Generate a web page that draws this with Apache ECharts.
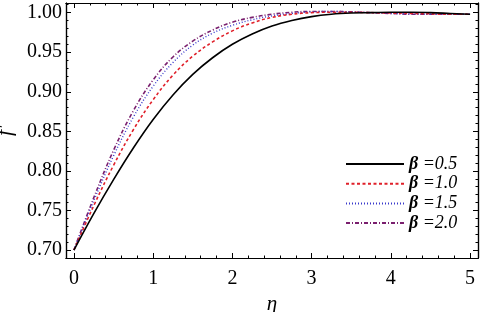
<!DOCTYPE html>
<html><head><meta charset="utf-8">
<script src="https://cdn.jsdelivr.net/npm/echarts@6/dist/echarts.min.js"></script>
<style>html,body{margin:0;padding:0;background:#fff}#c{width:480px;height:312px}</style>
</head><body><div id="c"></div>
<script>
const eta = [0,0.25,0.5,0.75,1.0,1.25,1.5,1.75,2.0,2.25,2.5,2.75,3.0,3.25,3.5,3.75,4.0,4.25,4.5,4.75,5.0];
const beta05 = [0.700,0.746,0.789,0.829,0.865,0.896,0.922,0.943,0.960,0.973,0.983,0.990,0.995,0.998,0.9995,1.000,1.0005,1.0005,1.000,0.999,0.998];
const beta10 = [0.700,0.756,0.807,0.852,0.890,0.921,0.945,0.963,0.977,0.987,0.994,0.998,1.000,1.0005,1.0005,1.000,0.9995,0.999,0.9985,0.998,0.998];
const beta15 = [0.700,0.762,0.819,0.868,0.907,0.937,0.959,0.974,0.984,0.991,0.996,0.999,1.001,1.0015,1.001,1.000,0.999,0.9985,0.998,0.998,0.998];
const beta20 = [0.700,0.766,0.826,0.876,0.915,0.944,0.964,0.978,0.988,0.994,0.998,1.0005,1.0015,1.0015,1.001,1.000,0.999,0.998,0.998,0.998,0.998];
const seriesNames = ['β =0.5','β =1.0','β =1.5','β =2.0'];
const xMajor = [0,1,2,3,4,5];
const xMinor = [0.2,0.4,0.6,0.8,1.2,1.4,1.6,1.8,2.2,2.4,2.6,2.8,3.2,3.4,3.6,3.8,4.2,4.4,4.6,4.8];
const yMajor = [0.70,0.75,0.80,0.85,0.90,0.95,1.00];
const yMinor = [0.71,0.72,0.73,0.74,0.76,0.77,0.78,0.79,0.81,0.82,0.83,0.84,0.86,0.87,0.88,0.89,0.91,0.92,0.93,0.94,0.96,0.97,0.98,0.99,1.01];

const FONT = '"Liberation Serif", "DejaVu Serif", serif';
const XMIN = -0.1, XMAX = 5.1, YMIN = 0.6899, YMAX = 1.0122;
const lineC = {color:'#000', width:1.2};

function axis(kind, pos, vals, len, labels, extra) {
  const a = {
    type:'value', position:pos,
    min: kind==='x'?XMIN:YMIN, max: kind==='x'?XMAX:YMAX,
    axisLine:{show:true, onZero:false, lineStyle:lineC},
    axisTick:{show:true, inside:true, length:len, customValues:vals, lineStyle:{color:'#000', width:1}},
    axisLabel:{show:false},
    splitLine:{show:false}
  };
  if (labels) {
    a.axisLabel = {show:true, customValues:vals, color:'#000', fontFamily:FONT, fontSize:20,
      margin: kind==='x'?11:4,
      formatter: kind==='x' ? (v)=>String(Math.round(v)) : (v)=>v.toFixed(2)};
  }
  return Object.assign(a, extra||{});
}

const data = (arr)=>eta.map((e,i)=>[e,arr[i]]);
const styles = [
  {color:'#000000', type:'solid', width:1.6},
  {color:'#e0202a', type:[3,2.5], width:1.6},
  {color:'#3a3acc', type:[1,2], width:1.4},
  {color:'#7a1f6e', type:[4,2,1,2], width:1.6}
];
const vals = [beta05,beta10,beta15,beta20];

const chart = echarts.init(document.getElementById('c'), null, {renderer:'canvas'});
chart.setOption({
  animation:false,
  backgroundColor:'#fff',
  grid:{left:66, right:2, top:3, bottom:54, containLabel:false, outerBoundsMode:'none'},
  xAxis:[
    axis('x','bottom',xMajor,5,true,{name:'η', nameLocation:'middle', nameGap:36,
      nameTextStyle:{fontFamily:FONT, fontStyle:'italic', fontSize:21, color:'#000'}}),
    axis('x','bottom',xMinor,2.5,false),
    axis('x','top',xMajor,5,false),
    axis('x','top',xMinor,2.5,false)
  ],
  yAxis:[
    axis('y','left',yMajor,5,true,{name:'f′', nameLocation:'middle', nameGap:49,
      nameTextStyle:{fontFamily:FONT, fontStyle:'italic', fontSize:22, color:'#000'}}),
    axis('y','left',yMinor,2.5,false),
    axis('y','right',yMajor,5,false),
    axis('y','right',yMinor,2.5,false)
  ],
  legend:{
    orient:'vertical', left:340, top:150, itemWidth:58, itemHeight:10, itemGap:1.7, itemTextGap:6,
    data: seriesNames,
    itemStyle:{opacity:0},
    formatter:(n)=>'{b|β}{t|' + n.slice(1) + '}',
    textStyle:{color:'#000', rich:{
      b:{fontFamily:FONT, fontStyle:'italic', fontWeight:'bold', fontSize:18, color:'#000'},
      t:{fontFamily:FONT, fontStyle:'italic', fontSize:18, color:'#000'}
    }}
  },
  series: vals.map((v,i)=>({
    name: seriesNames[i], type:'line', data:data(v), smooth:0.4, symbol:'none',
    xAxisIndex:0, yAxisIndex:0, lineStyle:styles[i], itemStyle:{color:styles[i].color}, z: 10-i
  }))
});
</script></body></html>
